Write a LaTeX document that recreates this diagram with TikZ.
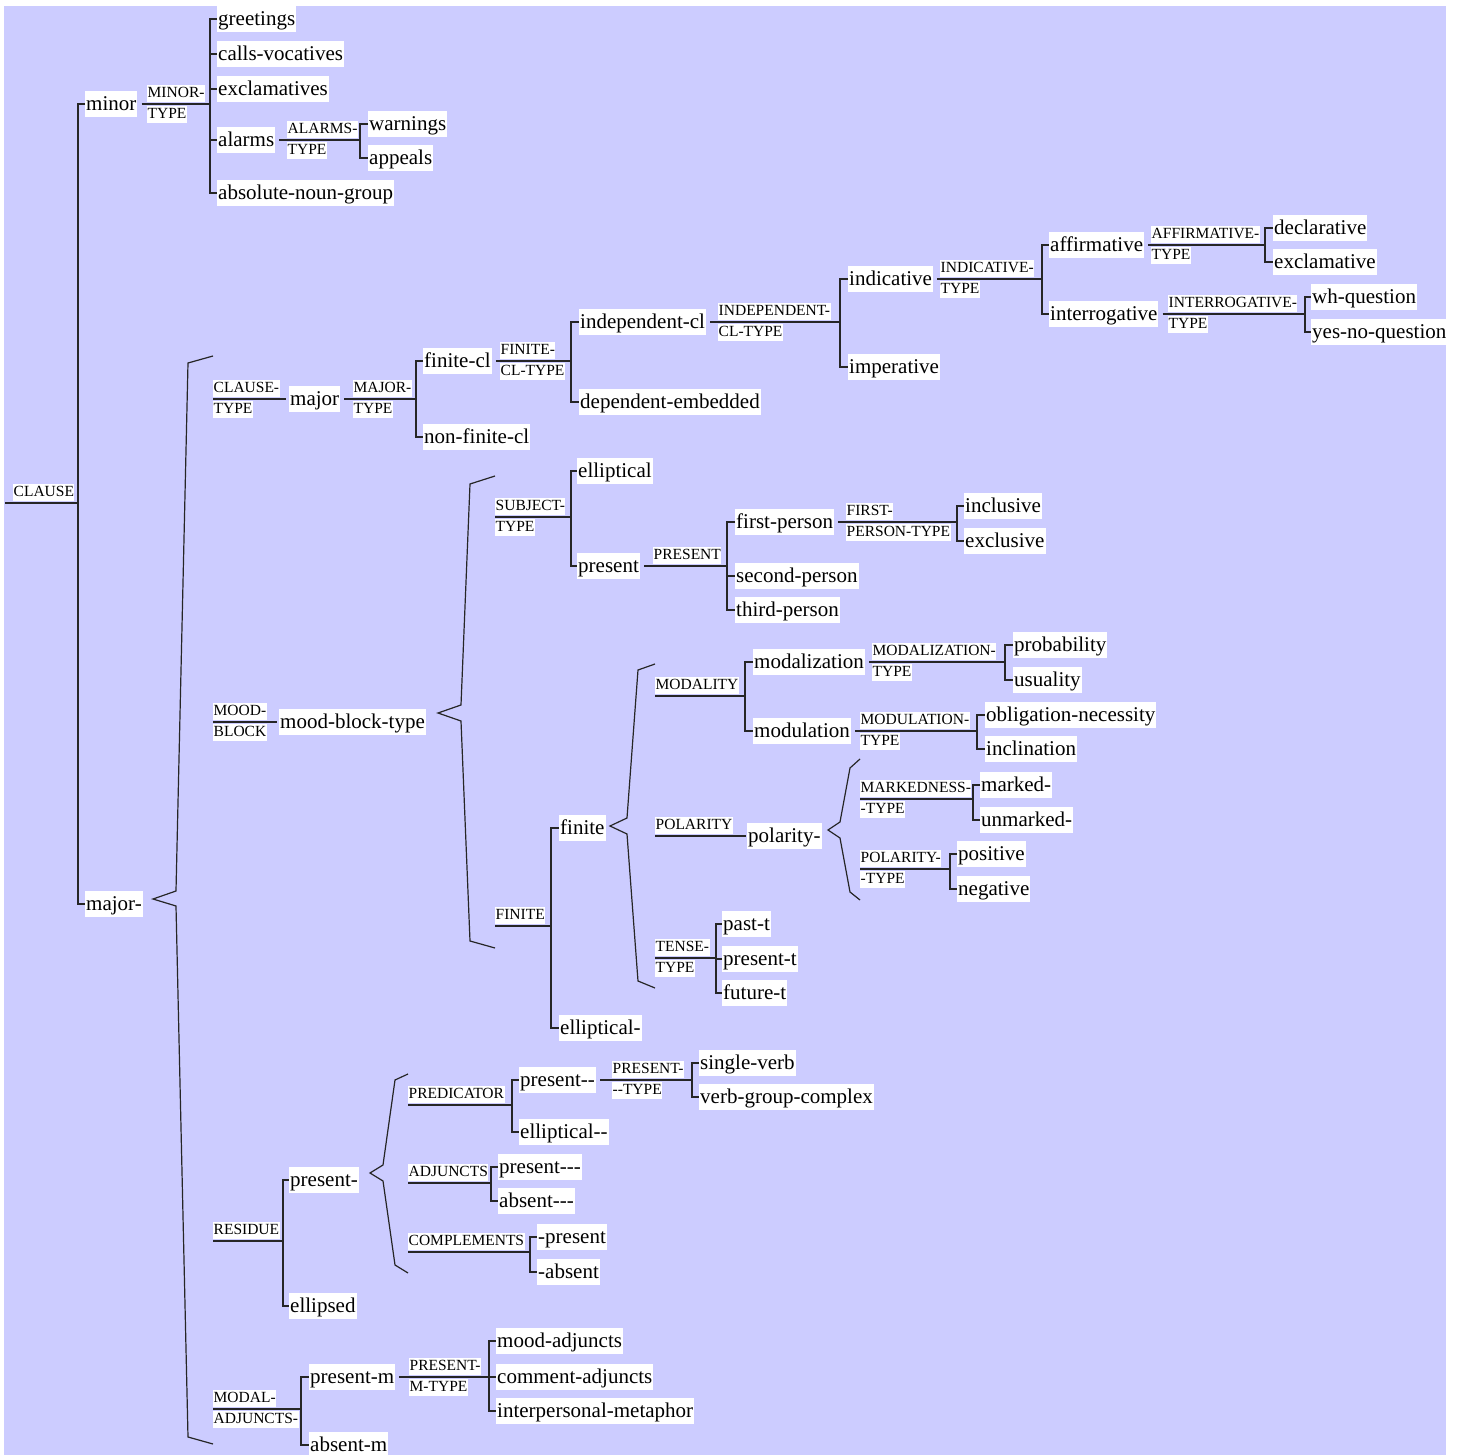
\documentclass[tikz,border=0pt]{standalone}
\usepackage{fontspec}
\setmainfont{Liberation Serif}[Ligatures=TeXOff]
\usetikzlibrary{calc}
\definecolor{netbg}{RGB}{204,204,255}
\tikzset{
  term/.style={fill=white, anchor=west, inner xsep=1pt, inner ysep=2pt,
    text height=18pt, text depth=4.5pt, font=\fontsize{21}{23}\selectfont},
  sysbox/.style={fill=white, inner xsep=0.5pt, inner ysep=1.5pt,
    text height=11pt, text depth=3pt, font=\fontsize{15.5}{16}\selectfont},
  sysup/.style={sysbox, anchor=south west, yshift=1.5pt},
  syslo/.style={sysbox, anchor=north west, yshift=-1.5pt},
  wire/.style={line width=1.2pt, black!85},
  entry/.style={wire, shorten <=4pt},
}

\begin{document}
\begin{tikzpicture}[x=1pt, y=-1pt]
\useasboundingbox (0,0) rectangle (1460,1455);
\fill[netbg] (4,6) rectangle (1446,1455);

% clause
\coordinate (root) at (5,503);
\coordinate (clauseB) at (78,503);
\node[sysup] (clauseL) at (13,503) {CLAUSE};
\node[term] (minor) at (85,104) {minor};
\node[term] (majorx) at (85,904) {major-};
\draw[wire] (root) -- (clauseB);
\draw[wire] (minor.west) -| (clauseB) |- (majorx.west);

% minor type
\coordinate (minorB) at (210,104);
\node[sysup] (minorL1) at (147,104) {MINOR-};
\node[syslo] (minorL2) at (147,104) {TYPE};
\node[term] (greet) at (217,19) {greetings};
\node[term] (calls) at (217,54) {calls-vocatives};
\node[term] (exclm) at (217,89) {exclamatives};
\node[term] (alarm) at (217,140) {alarms};
\node[term] (absng) at (217,193) {absolute-noun-group};
\draw[entry] (minor.east) -- (minorB);
\draw[wire] (greet.west) -| (minorB) |- (absng.west);
\draw[wire] (calls.west) -- (calls.west -| minorB);
\draw[wire] (exclm.west) -- (exclm.west -| minorB);
\draw[wire] (alarm.west) -- (alarm.west -| minorB);

% alarms type
\coordinate (alarmB) at (360,140);
\node[sysup] (alarmL1) at (287,140) {ALARMS-};
\node[syslo] (alarmL2) at (287,140) {TYPE};
\node[term] (warn) at (368,124) {warnings};
\node[term] (appeal) at (368,158) {appeals};
\draw[entry] (alarm.east) -- (alarmB);
\draw[wire] (warn.west) -| (alarmB) |- (appeal.west);

% major- brace
\draw[wire] (213,356) -- (188,363) -- (176,891) -- (153,899) -- (176,906) -- (188,1437) -- (213,1444);

% clause type
\coordinate (ctypeIn) at (213,399);
\node[sysup] (ctypeL1) at (213,399) {CLAUSE-};
\node[syslo] (ctypeL2) at (213,399) {TYPE};
\node[term] (major) at (289,399) {major};
\draw[wire, shorten >=3pt] (ctypeIn) -- (major.west);

% major type
\coordinate (majB) at (416,399);
\node[sysup] (majL1) at (353,399) {MAJOR-};
\node[syslo] (majL2) at (353,399) {TYPE};
\node[term] (fincl) at (423,361) {finite-cl};
\node[term] (nfincl) at (423,437) {non-finite-cl};
\draw[entry] (major.east) -- (majB);
\draw[wire] (fincl.west) -| (majB) |- (nfincl.west);

% finite-cl type
\coordinate (fclB) at (571,361);
\node[sysup] (fclL1) at (500,361) {FINITE-};
\node[syslo] (fclL2) at (500,361) {CL-TYPE};
\node[term] (indep) at (579,322) {independent-cl};
\node[term] (depemb) at (579,402) {dependent-embedded};
\draw[entry] (fincl.east) -- (fclB);
\draw[wire] (indep.west) -| (fclB) |- (depemb.west);

% independent-cl type
\coordinate (indB) at (840,322);
\node[sysup] (indL1) at (718,322) {INDEPENDENT-};
\node[syslo] (indL2) at (718,322) {CL-TYPE};
\node[term] (indic) at (848,279) {indicative};
\node[term] (imper) at (848,367) {imperative};
\draw[entry] (indep.east) -- (indB);
\draw[wire] (indic.west) -| (indB) |- (imper.west);

% indicative type
\coordinate (indicB) at (1042,279);
\node[sysup] (indicL1) at (940,279) {INDICATIVE-};
\node[syslo] (indicL2) at (940,279) {TYPE};
\node[term] (affirm) at (1049,245) {affirmative};
\node[term] (interr) at (1049,314) {interrogative};
\draw[entry] (indic.east) -- (indicB);
\draw[wire] (affirm.west) -| (indicB) |- (interr.west);

% affirmative type
\coordinate (affB) at (1265,245);
\node[sysup] (affL1) at (1151,245) {AFFIRMATIVE-};
\node[syslo] (affL2) at (1151,245) {TYPE};
\node[term] (decl) at (1273,228) {declarative};
\node[term] (exclv) at (1273,262) {exclamative};
\draw[entry] (affirm.east) -- (affB);
\draw[wire] (decl.west) -| (affB) |- (exclv.west);

% interrogative type
\coordinate (intB) at (1305,314);
\node[sysup] (intL1) at (1168,314) {INTERROGATIVE-};
\node[syslo] (intL2) at (1168,314) {TYPE};
\node[term] (whq) at (1311,297) {wh-question};
\node[term] (ynq) at (1311,332) {yes-no-question};
\draw[entry] (interr.east) -- (intB);
\draw[wire] (whq.west) -| (intB) |- (ynq.west);

% mood block
\coordinate (moodIn) at (213,722);
\node[sysup] (moodL1) at (213,722) {MOOD-};
\node[syslo] (moodL2) at (213,722) {BLOCK};
\node[term] (mbt) at (279,722) {mood-block-type};
\draw[wire, shorten >=2pt] (moodIn) -- (mbt.west);

% mood-block-type brace
\draw[wire] (495,476) -- (470,484) -- (461,705) -- (438,713) -- (461,721) -- (470,941) -- (495,948);

% subject type
\coordinate (subjIn) at (495,517);
\coordinate (subjB) at (571,517);
\node[sysup] (subjL1) at (495,517) {SUBJECT-};
\node[syslo] (subjL2) at (495,517) {TYPE};
\node[term] (ellip) at (577,471) {elliptical};
\node[term] (pres) at (577,566) {present};
\draw[wire] (subjIn) -- (subjB);
\draw[wire] (ellip.west) -| (subjB) |- (pres.west);

% present
\coordinate (presB) at (727,566);
\node[sysup] (presL) at (653,566) {PRESENT};
\node[term] (fstp) at (735,522) {first-person};
\node[term] (sndp) at (735,576) {second-person};
\node[term] (thdp) at (735,610) {third-person};
\draw[entry] (pres.east) -- (presB);
\draw[wire] (fstp.west) -| (presB) |- (thdp.west);
\draw[wire] (sndp.west) -- (sndp.west -| presB);

% first-person type
\coordinate (fpB) at (957,522);
\node[sysup] (fpL1) at (846,522) {FIRST-};
\node[syslo] (fpL2) at (846,522) {PERSON-TYPE};
\node[term] (inclu) at (964,506) {inclusive};
\node[term] (exclu) at (964,541) {exclusive};
\draw[entry] (fstp.east) -- (fpB);
\draw[wire] (inclu.west) -| (fpB) |- (exclu.west);

% finite
\coordinate (finIn) at (495,926);
\coordinate (finB) at (551,926);
\node[sysup] (finL) at (495,926) {FINITE};
\node[term] (finite) at (559,828) {finite};
\node[term] (ellipf) at (559,1028) {elliptical-};
\draw[wire] (finIn) -- (finB);
\draw[wire] (finite.west) -| (finB) |- (ellipf.west);

% finite brace
\draw[wire] (655,664) -- (638,670) -- (627,818) -- (610,826) -- (627,834) -- (638,981) -- (655,988);

% modality
\coordinate (modIn) at (655,696);
\coordinate (modB) at (745,696);
\node[sysup] (modL) at (655,696) {MODALITY};
\node[term] (modz) at (753,662) {modalization};
\node[term] (modu) at (753,731) {modulation};
\draw[wire] (modIn) -- (modB);
\draw[wire] (modz.west) -| (modB) |- (modu.west);

% modalization type
\coordinate (modzB) at (1005,662);
\node[sysup] (modzL1) at (872,662) {MODALIZATION-};
\node[syslo] (modzL2) at (872,662) {TYPE};
\node[term] (prob) at (1013,645) {probability};
\node[term] (usua) at (1013,680) {usuality};
\draw[entry] (modz.east) -- (modzB);
\draw[wire] (prob.west) -| (modzB) |- (usua.west);

% modulation type
\coordinate (moduB) at (977,731);
\node[sysup] (moduL1) at (860,731) {MODULATION-};
\node[syslo] (moduL2) at (860,731) {TYPE};
\node[term] (oblig) at (985,715) {obligation-necessity};
\node[term] (incli) at (985,749) {inclination};
\draw[entry] (modu.east) -- (moduB);
\draw[wire] (oblig.west) -| (moduB) |- (incli.west);

% polarity
\coordinate (polIn) at (655,836);
\node[sysup] (polL) at (655,836) {POLARITY};
\node[term] (polar) at (747,836) {polarity-};
\draw[wire, shorten >=1pt] (polIn) -- (polar.west);

% polarity brace
\draw[wire] (860,759) -- (850,768) -- (840,822) -- (828,830) -- (840,838) -- (850,892) -- (860,900);

% markedness type
\coordinate (markIn) at (860,799);
\coordinate (markB) at (973,799);
\node[sysup] (markL1) at (860,799) {MARKEDNESS-};
\node[syslo] (markL2) at (860,799) {-TYPE};
\node[term] (mkd) at (980,785) {marked-};
\node[term] (unmkd) at (980,820) {unmarked-};
\draw[wire] (markIn) -- (markB);
\draw[wire] (mkd.west) -| (markB) |- (unmkd.west);

% polarity type
\coordinate (ptIn) at (860,869);
\coordinate (ptB) at (950,869);
\node[sysup] (ptL1) at (860,869) {POLARITY-};
\node[syslo] (ptL2) at (860,869) {-TYPE};
\node[term] (posi) at (957,854) {positive};
\node[term] (nega) at (957,889) {negative};
\draw[wire] (ptIn) -- (ptB);
\draw[wire] (posi.west) -| (ptB) |- (nega.west);

% tense type
\coordinate (tenIn) at (655,958);
\coordinate (tenB) at (716,958);
\node[sysup] (tenL1) at (655,958) {TENSE-};
\node[syslo] (tenL2) at (655,958) {TYPE};
\node[term] (past) at (722,924) {past-t};
\node[term] (prst) at (722,959) {present-t};
\node[term] (futr) at (722,993) {future-t};
\draw[wire] (tenIn) -- (tenB);
\draw[wire] (past.west) -| (tenB) |- (futr.west);
\draw[wire] (prst.west) -- (prst.west -| tenB);

% residue
\coordinate (resIn) at (213,1241);
\coordinate (resB) at (283,1241);
\node[sysup] (resL) at (213,1241) {RESIDUE};
\node[term] (presr) at (289,1180) {present-};
\node[term] (ellpd) at (289,1306) {ellipsed};
\draw[wire] (resIn) -- (resB);
\draw[wire] (presr.west) -| (resB) |- (ellpd.west);

% present- brace
\draw[wire] (408,1074) -- (395,1080) -- (383,1165) -- (370,1173) -- (383,1181) -- (395,1265) -- (408,1273);

% predicator
\coordinate (predIn) at (408,1105);
\coordinate (predB) at (512,1105);
\node[sysup] (predL) at (408,1105) {PREDICATOR};
\node[term] (pres2) at (519,1080) {present--};
\node[term] (ellip2) at (519,1132) {elliptical--};
\draw[wire] (predIn) -- (predB);
\draw[wire] (pres2.west) -| (predB) |- (ellip2.west);

% present-- type
\coordinate (p2B) at (692,1080);
\node[sysup] (p2L1) at (612,1080) {PRESENT-};
\node[syslo] (p2L2) at (612,1080) {--TYPE};
\node[term] (sverb) at (699,1063) {single-verb};
\node[term] (vgc) at (699,1097) {verb-group-complex};
\draw[entry] (pres2.east) -- (p2B);
\draw[wire] (sverb.west) -| (p2B) |- (vgc.west);

% adjuncts
\coordinate (adjIn) at (408,1183);
\coordinate (adjB) at (491,1183);
\node[sysup] (adjL) at (408,1183) {ADJUNCTS};
\node[term] (pres3) at (498,1167) {present---};
\node[term] (abs3) at (498,1201) {absent---};
\draw[wire] (adjIn) -- (adjB);
\draw[wire] (pres3.west) -| (adjB) |- (abs3.west);

% complements
\coordinate (compIn) at (408,1252);
\coordinate (compB) at (530,1252);
\node[sysup] (compL) at (408,1252) {COMPLEMENTS};
\node[term] (cpres) at (537,1237) {-present};
\node[term] (cabs) at (537,1272) {-absent};
\draw[wire] (compIn) -- (compB);
\draw[wire] (cpres.west) -| (compB) |- (cabs.west);

% modal adjuncts
\coordinate (madjIn) at (213,1409);
\coordinate (madjB) at (301,1409);
\node[sysup] (madjL1) at (213,1409) {MODAL-};
\node[syslo] (madjL2) at (213,1409) {ADJUNCTS-};
\node[term] (presm) at (309,1377) {present-m};
\node[term] (absm) at (309,1445) {absent-m};
\draw[wire] (madjIn) -- (madjB);
\draw[wire] (presm.west) -| (madjB) |- (absm.west);

% present-m type
\coordinate (pmB) at (489,1377);
\node[sysup] (pmL1) at (409,1377) {PRESENT-};
\node[syslo] (pmL2) at (409,1377) {M-TYPE};
\node[term] (moodadj) at (496,1341) {mood-adjuncts};
\node[term] (commadj) at (496,1377) {comment-adjuncts};
\node[term] (ipmeta) at (496,1411) {interpersonal-metaphor};
\draw[entry] (presm.east) -- (pmB);
\draw[wire] (moodadj.west) -| (pmB) |- (ipmeta.west);
\draw[wire] (commadj.west) -- (commadj.west -| pmB);
\end{tikzpicture}
\end{document}
